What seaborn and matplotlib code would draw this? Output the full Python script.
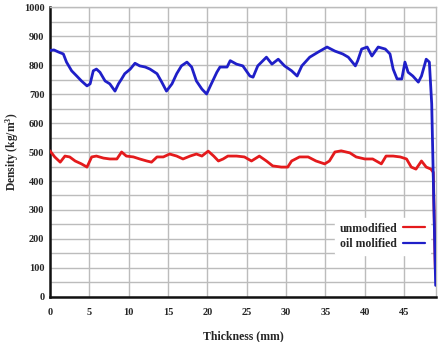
import numpy as np
import pandas as pd
import matplotlib
matplotlib.use("Agg")
import matplotlib.pyplot as plt
import seaborn as sns
from matplotlib.lines import Line2D

# Oil modified (blue)
oil_x = [0.0, 0.5, 1.06, 1.7, 2.1, 2.75, 3.4, 4.0, 4.7, 5.1, 5.5, 5.9, 6.35, 7.0, 7.6, 8.26, 8.7,
         9.1, 9.5, 10.2, 10.8, 11.4, 12.1, 12.7, 13.6, 14.2, 14.8, 15.5, 16.1, 16.7, 17.4, 18.0,
         18.6, 19.3, 19.9, 20.5, 21.2, 21.6, 22.5, 22.9, 23.7, 24.5, 25.4, 25.8, 26.4, 27.5, 28.2,
         29.0, 29.8, 30.7, 31.4, 32.0, 33.0, 34.1, 35.2, 36.2, 37.2, 37.9, 38.8, 39.1, 39.6, 40.3,
         40.9, 41.7, 42.6, 43.2, 43.6, 44.1, 44.7, 45.1, 45.5, 46.1, 46.8, 47.2, 47.8, 48.2, 48.5,
         48.75, 49.0]
oil_y = [850, 852, 845, 838, 810, 780, 762, 745, 728, 735, 780, 786, 775, 745, 735, 710, 735,
         752, 770, 786, 806, 797, 793, 786, 770, 741, 710, 735, 770, 797, 810, 793,
         745, 717, 700, 735, 775, 793, 793, 815, 803, 797, 762, 758, 797, 827, 803,
         820, 797, 780, 762, 797, 827, 845, 862, 848, 838, 827, 797, 815, 855, 862,
         831, 862, 855, 838, 786, 752, 752, 810, 775, 762, 741, 762, 820, 810, 666,
         350, 40]

# Unmodified (red)
unmod_x = [0.0, 0.6, 1.3, 1.9, 2.5, 3.2, 4.0, 4.7, 5.3, 5.9, 6.8, 7.6, 8.5, 9.1, 9.7, 10.6,
           11.4, 12.3, 12.9, 13.6, 14.4, 15.2, 16.1, 16.9, 17.8, 18.6, 19.3, 20.1, 20.8, 21.4,
           22.0, 22.6, 23.7, 24.7, 25.6, 26.6, 27.5, 28.3, 29.4, 30.2, 30.7, 31.7, 32.8, 33.8,
           34.9, 35.5, 36.2, 37.0, 38.1, 38.9, 40.0, 41.0, 42.1, 42.7, 43.6, 44.5, 45.3, 45.9,
           46.5, 47.2, 47.8, 48.4, 48.7, 48.95]
unmod_y = [504, 483, 465, 486, 483, 469, 459, 448, 483, 486, 479, 476, 476, 500, 486, 483,
           476, 469, 465, 483, 483, 493, 486, 476, 486, 493, 486, 503, 486, 469,
           476, 486, 486, 483, 469, 486, 469, 452, 448, 448, 469, 483, 483, 469,
           459, 469, 500, 504, 497, 483, 476, 476, 459, 486, 486, 483, 476, 448,
           441, 469, 448, 441, 430, 100]

x_ticks = [0, 5, 10, 15, 20, 25, 30, 35, 40, 45]
y_ticks = [0, 100, 200, 300, 400, 500, 600, 700, 800, 900, 1000]

df = pd.concat([
    pd.DataFrame({"Thickness": unmod_x, "Density": unmod_y, "Sample": "unmodified"}),
    pd.DataFrame({"Thickness": oil_x, "Density": oil_y, "Sample": "oil molified"}),
], ignore_index=True)

sns.set_style("white")
plt.rcParams["font.family"] = ["Liberation Serif", "DejaVu Serif"]
plt.rcParams["font.weight"] = "bold"
plt.rcParams["mathtext.fontset"] = "custom"
plt.rcParams["mathtext.bf"] = "Liberation Serif:bold"

fig = plt.figure(figsize=(4.4, 3.42), dpi=100)
ax = fig.add_axes([0.1136, 0.1316, 0.8774, 0.8479])

sns.lineplot(data=df, x="Thickness", y="Density", hue="Sample",
             palette={"unmodified": "#e41a1c", "oil molified": "#1f1fc8"},
             sort=False, estimator=None, linewidth=2.0, ax=ax, legend=False, zorder=3)

ax.set_xlim(0, 49.05)
ax.set_ylim(0, 1000)
ax.set_xticks(x_ticks)
ax.set_yticks(y_ticks)
ax.set_yticks(np.arange(50, 1000, 100), minor=True)
ax.grid(True, which="both", color="#bcbcbc", linewidth=1.0, zorder=0)
ax.set_axisbelow(True)
ax.tick_params(axis="both", which="both", length=0, labelsize=7.5)
ax.tick_params(axis="x", pad=8)
ax.tick_params(axis="y", pad=4)
for lab in ax.get_xticklabels() + ax.get_yticklabels():
    lab.set_fontweight("bold")

for s in ["left", "bottom"]:
    ax.spines[s].set_color("#111111")
    ax.spines[s].set_linewidth(1.8)
for s in ["top", "right"]:
    ax.spines[s].set_color("#bcbcbc")
    ax.spines[s].set_linewidth(1.0)

ax.set_xlabel("Thickness (mm)", fontsize=8.5, fontweight="bold")
ax.xaxis.set_label_coords(0.5, -0.115)
ax.set_ylabel("Density (kg/m$\\mathbf{^3}$)", fontsize=8.3, fontweight="bold")
ax.yaxis.set_label_coords(-0.076, 0.5)

handles = [Line2D([], [], color="#e41a1c", lw=1.6), Line2D([], [], color="#1f1fc8", lw=1.6)]
leg = ax.legend(handles, ["unmodified", "oil molified"], loc="lower right",
                bbox_to_anchor=(1.0, 0.125), markerfirst=False, frameon=True,
                fontsize=8.5, handlelength=1.9, handletextpad=0.5, borderpad=0.4,
                labelspacing=0.3)
leg.get_frame().set_facecolor("white")
leg.get_frame().set_edgecolor("white")
leg.get_frame().set_alpha(1)
for t in leg.get_texts():
    t.set_fontweight("bold")
leg.set_zorder(2)

fig.savefig("out.png", dpi=100)
